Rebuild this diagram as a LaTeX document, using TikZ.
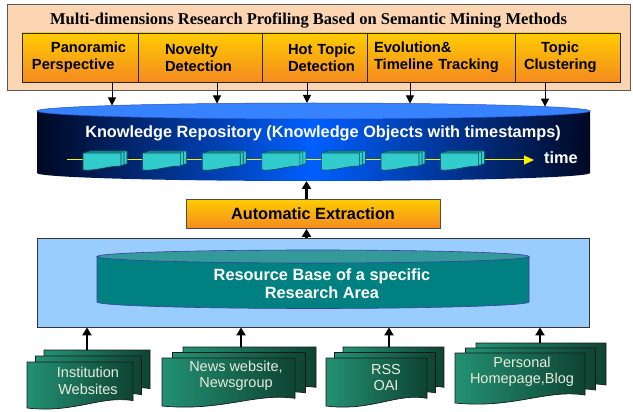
\documentclass[tikz,border=0pt]{standalone}
\usepackage{fontspec}
\setmainfont{Liberation Serif}
\setsansfont{Liberation Sans}
\usetikzlibrary{arrows.meta}

\definecolor{peach}{RGB}{252,213,178}
\definecolor{boxtop}{RGB}{255,204,0}
\definecolor{boxbot}{RGB}{244,138,32}
\definecolor{repotop}{RGB}{55,130,255}
\definecolor{repomid}{RGB}{0,95,255}
\definecolor{repoedge}{RGB}{0,8,35}
\definecolor{repoline}{RGB}{40,80,200}
\definecolor{kobj}{RGB}{51,204,204}
\definecolor{kobjline}{RGB}{0,70,80}
\definecolor{resblue}{RGB}{153,204,255}
\definecolor{resteal}{RGB}{0,128,128}
\definecolor{restop}{RGB}{51,153,153}
\definecolor{resline}{RGB}{60,60,170}
\definecolor{docleft}{RGB}{35,145,115}
\definecolor{docright}{RGB}{14,68,50}
\definecolor{doctext}{RGB}{232,236,224}

\tikzset{
  method/.style={draw=black!85, line width=0.8pt, top color=boxtop, bottom color=boxbot,
    minimum height=49pt, inner xsep=1pt, inner ysep=0pt, align=left,
    font=\sffamily\bfseries\fontsize{14.7}{17}\selectfont},
  whitetext/.style={text=white, font=\sffamily\bfseries\fontsize{16.3}{18}\selectfont},
  doclabel/.style={text=doctext, align=center, font=\sffamily\fontsize{14.5}{16.5}\selectfont},
  docpage/.style={draw=black!90, line width=0.7pt, left color=docleft, right color=docright},
  kobject/.style={draw=kobjline, fill=kobj, line width=0.6pt},
  downarrow/.style={draw=black, line width=1pt, -{Triangle[width=8pt,length=8pt]}},
  uparrow/.style={draw=black, line width=2.6pt, -{Triangle[width=9pt,length=8pt]}},
  timeline/.style={draw=yellow, line width=1pt, -{Triangle[width=9pt,length=10pt]}}
}

\newcommand{\docsheet}[4]{%
  \draw[docpage] (#1,#2) -- ++(#3,0) -- ++(0,{0.84*#4})
    .. controls +({-0.3*#3},{-0.12*#4}) and +({0.45*#3},{0.12*#4}) .. ++({-#3},{0.16*#4}) -- cycle;}

\begin{document}
\begin{tikzpicture}[x=1pt, y=-1pt]
  \useasboundingbox (0,0) rectangle (633,412);

  % profiling methods
  \node (profile) at (318.5,47) [draw=gray!70!black, fill=peach, line width=0.8pt,
    minimum width=623pt, minimum height=86pt] {};
  \node (title) at (308.5,21) [font=\rmfamily\bfseries\fontsize{16.5}{18}\selectfont]
    {Multi-dimensions Research Profiling Based on Semantic Mining Methods};
  \node (pano) at (80,57.5) [method, text width=114pt] {\hspace*{28pt}Panoramic\\\hspace*{9pt}Perspective};
  \node (nov) at (200,57.5) [method, text width=122pt] {\hspace*{26pt}Novelty\\\hspace*{26pt}Detection};
  \node (hot) at (314.5,57.5) [method, text width=103pt] {\hspace*{25pt}Hot Topic\\\hspace*{25pt}Detection};
  \node (evo) at (441,57.5) [method, text width=146pt] {\hspace*{6pt}Evolution\&\\\hspace*{6pt}Timeline Tracking};
  \node (clus) at (567.5,57.5) [method, text width=103pt] {\hspace*{25pt}Topic\\\hspace*{8pt}Clustering};

  % knowledge repository
  \path[left color=repoedge, right color=repoedge, middle color=repomid]
    (37,111) -- (37,173) arc[start angle=180, end angle=360, x radius=276.5pt, y radius=8pt]
    -- (590,111) -- cycle;
  \draw[fill=repotop, draw=repoline, line width=0.5pt] (313.5,111) ellipse [x radius=276.5pt, y radius=8pt];
  \node (repo) at (323,133) [whitetext] {Knowledge Repository (Knowledge Objects with timestamps)};
  \node (timelbl) at (561,158) [whitetext] {time};
  \coordinate (tstart) at (67,160);
  \coordinate (tend) at (534,160);
  \draw[timeline] (tstart) -- (tend);
  \foreach \i in {0,...,6}{
    \foreach \s in {2,1,0}{
      \draw[kobject] ({83+59.6*\i+3*\s},{153-\s}) -- ++(38,0) -- ++(0,13)
        .. controls +(-14,0) and +(14,1) .. ++(-38,4) -- cycle;
    }
  }

  \coordinate (k1) at (112,105.5);
  \coordinate (k2) at (217,103.5);
  \coordinate (k3) at (307,103);
  \coordinate (k4) at (410,103.5);
  \coordinate (k5) at (545,106.6);
  \draw[downarrow] (pano.south -| k1) -- (k1);
  \draw[downarrow] (nov.south -| k2) -- (k2);
  \draw[downarrow] (hot.south -| k3) -- (k3);
  \draw[downarrow] (evo.south -| k4) -- (k4);
  \draw[downarrow] (clus.south -| k5) -- (k5);

  % extraction
  \node (ae) at (313,214) [method, align=center, minimum width=254pt, minimum height=29pt,
    draw=gray!60!black, font=\sffamily\bfseries\fontsize{16.3}{18}\selectfont] {Automatic Extraction};
  \coordinate (repobot) at (306.5,181);
  \draw[uparrow] ([xshift=-6.5pt]ae.north) -- (repobot);

  % resource base
  \node (resbox) at (313,282.5) [draw=gray!40!black, fill=resblue, line width=0.8pt,
    minimum width=552pt, minimum height=89pt] {};
  \draw[uparrow] ([xshift=-6.5pt]resbox.north) -- ([xshift=-6.5pt]ae.south);
  \draw[fill=resteal, draw=resline, line width=0.6pt]
    (97,256.5) -- (97,302) arc[start angle=180, end angle=360, x radius=216pt, y radius=6.5pt]
    -- (529,256.5) -- cycle;
  \draw[fill=restop, draw=resline, line width=0.6pt] (313,256.5) ellipse [x radius=216pt, y radius=6.5pt];
  \node (resarea) at (322,284) [whitetext, align=center] {Resource Base of a specific\\Research Area};

  % sources
  \docsheet{44}{350}{106}{46}
  \docsheet{35.5}{356}{106}{46}
  \docsheet{27}{362}{106}{46}
  \node (inst) at (88,381) [doclabel] {Institution\\Websites};
  \docsheet{183}{347}{133}{48}
  \docsheet{172.5}{352.5}{133}{48}
  \docsheet{162}{358}{133}{48}
  \node (news) at (236,376) [doclabel] {News website,\\Newsgroup};
  \docsheet{343}{347}{101}{48}
  \docsheet{334.5}{352.5}{101}{48}
  \docsheet{326}{358}{101}{48}
  \node (rss) at (386,377.5) [doclabel] {RSS\\OAI};
  \docsheet{476}{343}{130}{50}
  \docsheet{465.5}{348}{130}{50}
  \docsheet{455}{353}{130}{50}
  \node (blog) at (522,371.5) [doclabel] {Personal\\Homepage,Blog};

  \coordinate (insttop) at (87,350);
  \coordinate (newstop) at (241,347);
  \coordinate (rsstop) at (389,347);
  \coordinate (blogtop) at (540,343);
  \draw[uparrow] (insttop) -- (insttop |- resbox.south);
  \draw[uparrow] (newstop) -- (newstop |- resbox.south);
  \draw[uparrow] (rsstop) -- (rsstop |- resbox.south);
  \draw[uparrow] (blogtop) -- (blogtop |- resbox.south);
\end{tikzpicture}
\end{document}
